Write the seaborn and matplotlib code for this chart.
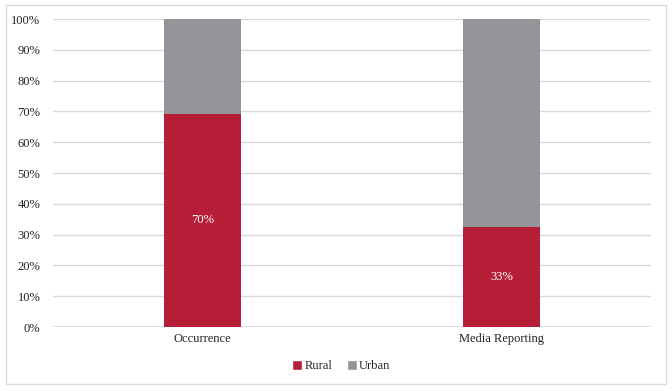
import matplotlib
matplotlib.use("Agg")
import matplotlib.pyplot as plt
import seaborn as sns
import pandas as pd
from matplotlib.patches import Rectangle, Patch

categories = ["Occurrence", "Media Reporting"]
rural = [69.3, 32.4]
urban = [30.7, 67.6]
rural_labels = ["70%", "33%"]
yticks = [0, 10, 20, 30, 40, 50, 60, 70, 80, 90, 100]

RED = "#B61E38"
GREY = "#939598"

sns.set_theme(style="white")
plt.rcParams["font.family"] = ["Liberation Serif", "DejaVu Serif"]

fig = plt.figure(figsize=(6.72, 3.91), dpi=100)
ax = fig.add_axes([53/672, 1-327/391, (651-53)/672, (327-19)/391])

df = pd.DataFrame({"cat": categories, "rural": rural,
                   "total": [r + u for r, u in zip(rural, urban)]})

for y in yticks[1:]:
    ax.axhline(y, color="#D9D9D9", lw=1, zorder=0)
ax.axhline(0, color="#D9D9D9", lw=1.2, zorder=0)

sns.barplot(data=df, x="cat", y="total", color=GREY, width=0.26,
            saturation=1, ax=ax, zorder=2, linewidth=0, edgecolor="none")
sns.barplot(data=df, x="cat", y="rural", color=RED, width=0.26,
            saturation=1, ax=ax, zorder=3, linewidth=0, edgecolor="none")

for i, (r, lab) in enumerate(zip(rural, rural_labels)):
    ax.text(i, r / 2, lab, ha="center", va="center", color="white",
            fontsize=9, zorder=4)

ax.set_xlim(-0.5, 1.5)
ax.set_ylim(0, 100)
ax.set_yticks(yticks)
ax.set_yticklabels([f"{t}%" for t in yticks])
ax.set_xlabel("")
ax.set_ylabel("")
ax.tick_params(axis="both", length=0, labelsize=9, colors="#222222")
ax.tick_params(axis="y", pad=9)
ax.tick_params(axis="x", pad=4)
for s in ax.spines.values():
    s.set_visible(False)

handles = [Patch(facecolor=RED, label="Rural"), Patch(facecolor=GREY, label="Urban")]
fig.legend(handles=handles, loc="center", bbox_to_anchor=(0.508, 1-366/391),
           ncol=2, frameon=False, fontsize=9, handlelength=0.8, handleheight=0.8,
           handletextpad=0.2, columnspacing=1.1)

fig.patches.append(Rectangle((6/672, 1-384/391), 660/672, 379/391,
                             transform=fig.transFigure, fill=False,
                             edgecolor="#D9D9D9", lw=1))

fig.savefig("out.png", dpi=100)
